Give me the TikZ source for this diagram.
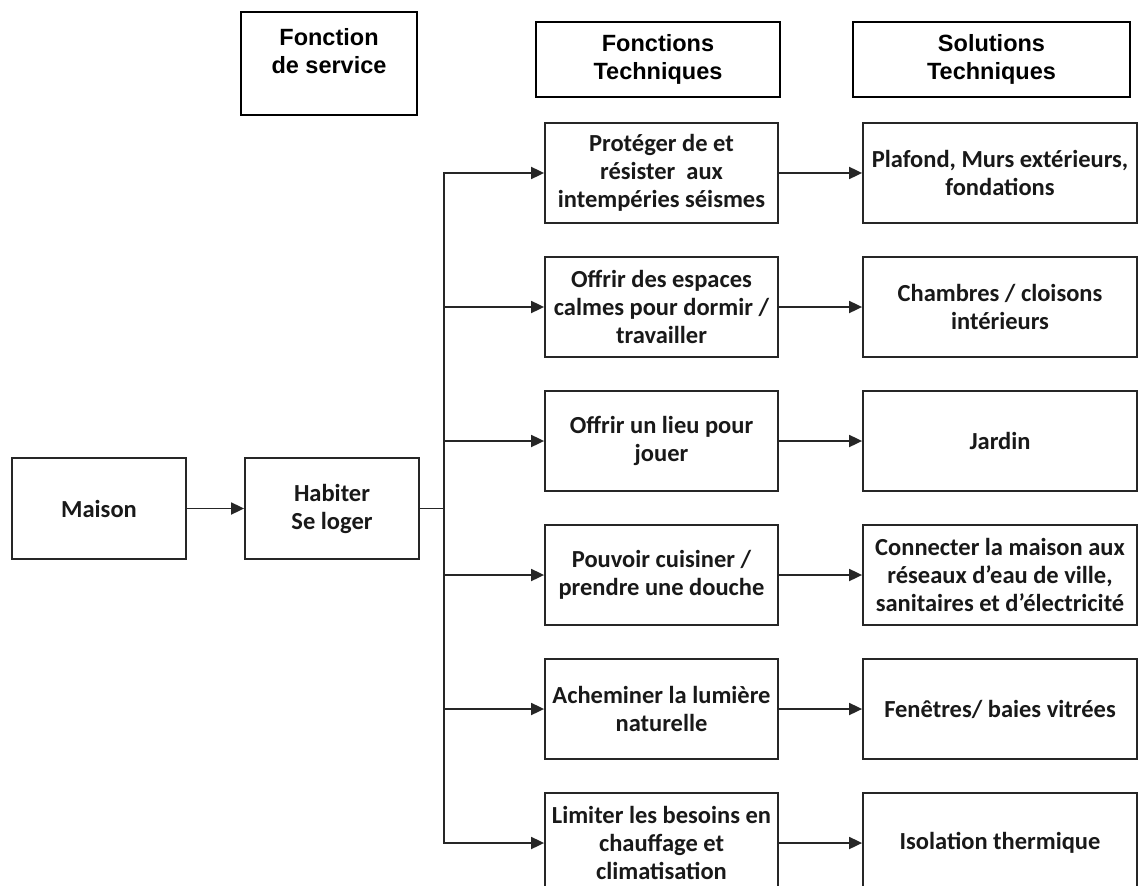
\documentclass[tikz,border=0pt]{standalone}
\usepackage{fontspec}
\setmainfont{Carlito}
\newfontfamily\hdrfont{Liberation Sans}
\usetikzlibrary{arrows.meta}
\tikzset{
  boxbase/.style={draw=black!85, line width=1.8pt, inner sep=0pt, align=center, text=black!90},
  boxfont/.style={font=\fontsize{24.5}{28}\selectfont\bfseries},
  ftbox/.style={boxbase, boxfont, minimum width=233pt, minimum height=100pt},
  stbox/.style={boxbase, boxfont, minimum width=274pt, minimum height=100pt},
  mainbox/.style={boxbase, boxfont, minimum width=174pt, minimum height=101pt},
  hdrbox/.style={draw=black, line width=1.8pt, inner sep=0pt, align=center, text=black},
  hdrfont/.style={font=\hdrfont\fontsize{23.5}{28}\selectfont\bfseries},
  wire/.style={line width=1.8pt, draw=black!85},
  conn/.style={wire, -{Triangle[length=13pt,width=12pt]}}
}
\begin{document}
\begin{tikzpicture}[x=1pt,y=-1pt]
\clip (0,0) rectangle (1139,885);
\fill[white] (0,0) rectangle (1139,885);

% headers
\node[hdrbox, minimum width=176pt, minimum height=103pt] (hfs) at (329,63.5) {};
\node[hdrfont, align=center, inner sep=0pt, anchor=north] (hfstext) at (329,28.5) {Fonction\\de service};
\node[hdrbox, hdrfont, minimum width=244pt, minimum height=75pt] (hft) at (658,59.5) {Fonctions\\Techniques};
\node[hdrbox, hdrfont, minimum width=277pt, minimum height=75pt] (hst) at (991.5,59.5) {Solutions\\Techniques};

% main chain
\node[mainbox] (maison) at (99,508.5) {Maison};
\node[mainbox] (habiter) at (332,508.5) {Habiter\\Se loger};

% technical functions
\node[ftbox] (ft1) at (661.5,173) {Protéger de et\\résister\ \ aux\\intempéries séismes};
\node[ftbox] (ft2) at (661.5,307) {Offrir des espaces\\calmes pour dormir /\\travailler};
\node[ftbox] (ft3) at (661.5,441) {Offrir un lieu pour\\jouer};
\node[ftbox] (ft4) at (661.5,575) {Pouvoir cuisiner /\\prendre une douche};
\node[ftbox] (ft5) at (661.5,709) {Acheminer la lumière\\naturelle};
\node[ftbox] (ft6) at (661.5,843) {Limiter les besoins en\\chauffage et\\climatisation};

% technical solutions
\node[stbox] (st1) at (1000,173) {Plafond, Murs extérieurs,\\fondations};
\node[stbox] (st2) at (1000,307) {Chambres / cloisons\\intérieurs};
\node[stbox] (st3) at (1000,441) {Jardin};
\node[stbox] (st4) at (1000,575) {Connecter la maison aux\\réseaux d’eau de ville,\\sanitaires et d’électricité};
\node[stbox] (st5) at (1000,709) {Fenêtres/ baies vitrées};
\node[stbox] (st6) at (1000,843) {Isolation thermique};

% connectors
\coordinate (bus) at (444,508.5);
\draw[conn] (maison) -- (habiter);
\draw[wire] (habiter.east) -- (bus);
\draw[wire, line cap=rect] (ft1.west -| bus) -- (ft6.west -| bus);
\foreach \i in {1,...,6}{
  \draw[conn] (ft\i.west -| bus) -- (ft\i.west);
  \draw[conn] (ft\i.east) -- (st\i.west);
}
\end{tikzpicture}
\end{document}
